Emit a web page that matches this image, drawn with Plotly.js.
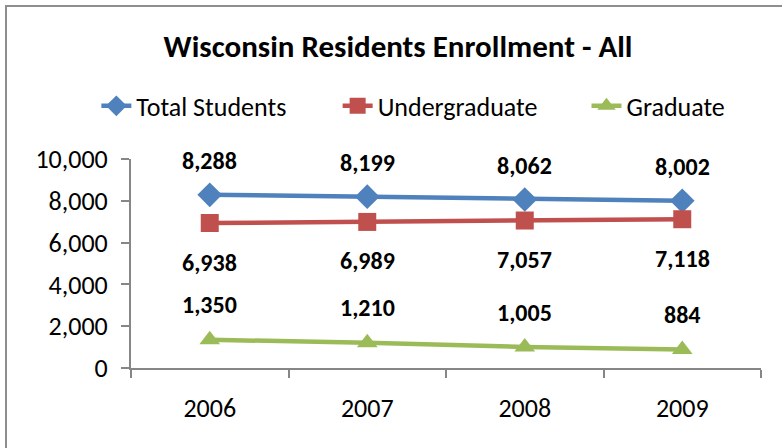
<!DOCTYPE html>
<html>
<head>
<meta charset="utf-8">
<script src="https://cdn.plot.ly/plotly-3.0.1.min.js"></script>
<style>
  html, body { margin: 0; padding: 0; background: #fff; overflow: hidden; }
  #frame { position: absolute; left: 5px; top: 5px; width: 900px; height: 600px;
           border-left: 2px solid #8e8e8e; border-top: 2px solid #8e8e8e; box-sizing: border-box; }
  #chart { position: absolute; left: 0; top: 0; width: 782px; height: 448px; }
</style>
</head>
<body>
<div id="frame"></div>
<div id="chart"></div>
<script>
const years = ['2006', '2007', '2008', '2009'];
const totalStudents = [8288, 8199, 8062, 8002];
const undergraduate = [6938, 6989, 7057, 7118];
const graduate = [1350, 1210, 1005, 884];
const seriesNames = ['Total Students', 'Undergraduate', 'Graduate'];
const yTickValues = [0, 2000, 4000, 6000, 8000, 10000];

const FONT = 'Carlito, Calibri, Lato, sans-serif';
const colors = ['#4F81BD', '#C0504D', '#9BBB59'];
const symbols = ['diamond', 'square', 'triangle-up'];
const allSeries = [totalStudents, undergraduate, graduate];
const labelShift = [34, -39, 35];
const legendIds = ['legend', 'legend2', 'legend3'];
const legendX = [-0.055, 0.328, 0.723];

const traces = allSeries.map((vals, i) => ({
  type: 'scatter',
  mode: 'lines+markers',
  name: seriesNames[i],
  legend: legendIds[i],
  x: years,
  y: vals,
  line: { color: colors[i], width: 4.5 },
  marker: { symbol: symbols[i], size: i === 0 ? 19 : 18, color: colors[i] },
  cliponaxis: false,
  hoverinfo: 'skip'
}));

const annotations = [];
allSeries.forEach((vals, i) => {
  vals.forEach((v, j) => {
    annotations.push({
      x: j, y: v, xref: 'x', yref: 'y',
      text: '<b>' + v.toLocaleString('en-US') + '</b>',
      showarrow: false, yshift: labelShift[i],
      font: { family: FONT, size: 24, color: '#000' }
    });
  });
});

const layout = {
  width: 782, height: 448,
  margin: { l: 131, r: 21, t: 159, b: 80 },
  paper_bgcolor: 'rgba(0,0,0,0)',
  plot_bgcolor: 'rgba(0,0,0,0)',
  font: { family: FONT, size: 26, color: '#000' },
  title: {
    text: '<b>Wisconsin Residents Enrollment - All</b>',
    x: 0.509, xref: 'container', xanchor: 'center',
    y: 0.897, yref: 'container', yanchor: 'middle',
    font: { family: FONT, size: 31, color: '#000' }
  },
  showlegend: true,
  xaxis: {
    type: 'category',
    range: [-0.5, 3.5],
    tickson: 'boundaries',
    ticks: 'outside', ticklen: 8, tickwidth: 2, tickcolor: '#868686',
    showline: true, linecolor: '#868686', linewidth: 2,
    showgrid: false, zeroline: false,
    tickfont: { family: FONT, size: 26, color: '#000' },
    ticklabelstandoff: 16
  },
  yaxis: {
    range: [0, 10000],
    tickvals: yTickValues,
    tickformat: ',',
    ticks: 'outside', ticklen: 8, tickwidth: 2, tickcolor: '#868686',
    showline: true, linecolor: '#868686', linewidth: 2,
    showgrid: false, zeroline: false,
    tickfont: { family: FONT, size: 26, color: '#000' },
    ticklabelstandoff: 8
  },
  annotations: annotations
};

legendIds.forEach((id, i) => {
  layout[id] = {
    orientation: 'h',
    x: legendX[i], xanchor: 'left',
    y: 1.254, yanchor: 'middle',
    font: { family: FONT, size: 26, color: '#000' },
    bgcolor: 'rgba(0,0,0,0)'
  };
});

Plotly.newPlot('chart', traces, layout, { displayModeBar: false, staticPlot: true });
</script>
</body>
</html>
